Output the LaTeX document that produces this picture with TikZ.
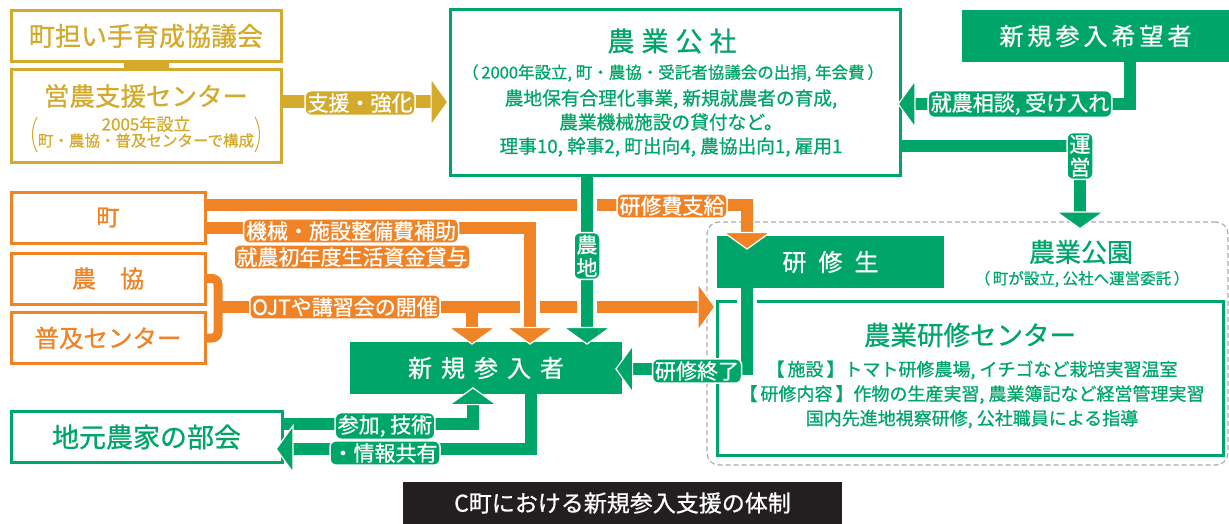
\documentclass[tikz,border=0pt]{standalone}
\usepackage{fontspec}
\setmainfont{Noto Sans CJK JP}[FakeBold=0.8]
\usetikzlibrary{arrows.meta,calc}
\definecolor{gn}{RGB}{0,165,106}
\definecolor{gd}{RGB}{211,170,44}
\definecolor{orc}{RGB}{240,131,38}
\definecolor{dk}{RGB}{35,31,32}
\begin{document}
\begin{tikzpicture}[x=1pt,y=-1pt,
  bx/.style={draw=#1, line width=3pt, inner sep=0pt, fill=white},
  fbx/.style={fill=gn, inner sep=0pt, text=white},
  lab/.style={fill=#1, draw=white, line width=1.5pt, rounded corners=6pt, text=white, inner sep=2.5pt, font=\fontsize{21}{23}\selectfont},
  ln/.style={draw=#1, line width=12pt},
  arr/.style={-{Triangle[width=50pt,length=18pt,line width=1.2pt,color=white,fill=#1]}},
  casing/.style={draw=white, line width=20pt},
]
\useasboundingbox (0,0) rectangle (1229,524);

% ---------- helper coordinates ----------
\coordinate (hS) at (0,102);
\coordinate (hK) at (0,104);
\coordinate (hU) at (0,146);
\coordinate (vU) at (1080,0);
\coordinate (vKibo) at (1130,0);
\coordinate (vN) at (587,0);
\coordinate (h1) at (0,205);
\coordinate (h2) at (0,228);
\coordinate (vK) at (747,0);
\coordinate (v2) at (530,0);
\coordinate (hO) at (0,307);
\coordinate (vO) at (472,0);
\coordinate (vB) at (218,0);
\coordinate (hE) at (0,369);
\coordinate (hJ1) at (0,424);
\coordinate (vJ1) at (473,0);
\coordinate (hJ2) at (0,449);
\coordinate (vJ2) at (531,0);

% ---------- gold ----------
\node[bx=gd, minimum width=270pt, minimum height=51pt, text=gd, font=\fontsize{26}{26}\selectfont] (kyogi) at (146,36) {町担い手育成協議会};
\node[bx=gd, minimum width=270pt, minimum height=93pt] (eino) at (146,116.5) {};
\node[text=gd, font=\fontsize{25.5}{26}\selectfont] (einoT) at (146,96) {営農支援センター};
\node[text=gd, font=\fontsize{17}{17}\selectfont] (einoS1) at (146,124) {2005年設立};
\node[text=gd, font=\fontsize{15.5}{16}\selectfont] (einoS2) at (146,140.5) {町・農協・普及センターで構成};
\draw[gd, line width=1pt] (37,117) .. controls (31,128) and (31,141) .. (37,152);
\draw[gd, line width=1pt] (255,117) .. controls (261,128) and (261,141) .. (255,152);
\fill[gd] ($(kyogi.south)+(-22.5,0)$) rectangle ($(eino.north)+(22.5,0)$);

% ---------- green top ----------
\node[bx=gn, minimum width=450pt, minimum height=165pt] (kosha) at (675,92.5) {};
\node[text=gn, font=\fontsize{27}{27}\selectfont] (koshaT) at (672,41) {農\kern7pt 業\kern7pt 公\kern7pt 社};
\node[text=gn, font=\fontsize{16.5}{17}\selectfont] (koshaS) at (673,73) {（\,2000年設立, 町・農協・受託者協議会の出捐, 年会費\,）};
\node[text=gn, font=\fontsize{18.7}{24}\selectfont, align=center] (koshaB) at (671,123) {農地保有合理化事業, 新規就農者の育成,\\農業機械施設の貸付など。\\理事10, 幹事2, 町出向4, 農協出向1, 雇用1};

\node[fbx, minimum width=267pt, minimum height=52pt, font=\fontsize{24}{24}\selectfont] (kibo) at (1095.5,36) {新\kern4pt 規\kern4pt 参\kern4pt 入\kern4pt 希\kern4pt 望\kern4pt 者};

% ---------- orange boxes ----------
\node[bx=orc, minimum width=194pt, minimum height=51pt, text=orc, font=\fontsize{23}{23}\selectfont] (machi) at (108,217.5) {町};
\node[bx=orc, minimum width=194pt, minimum height=51pt, text=orc, font=\fontsize{24}{24}\selectfont] (nokyo) at (108,278.5) {農\hspace{1em}協};
\node[bx=orc, minimum width=194pt, minimum height=51pt, text=orc, font=\fontsize{24.5}{24}\selectfont] (fukyu) at (108,338) {普及センター};

% ---------- park area ----------
\node[draw=gray!65, dashed, dash pattern=on 5pt off 3pt, line width=1.2pt, rounded corners=12pt, minimum width=521pt, minimum height=243pt] (park) at (967.5,343.5) {};
\node[text=gn, font=\fontsize{26}{26}\selectfont] (koen) at (1081,252) {農業公園};
\node[text=gn, font=\fontsize{15.5}{15}\selectfont] (koenS) at (1082,279) {（\,町が設立, 公社へ運営委託\,）};
\node[bx=gn, minimum width=506pt, minimum height=154pt] (kcenter) at (970,378) {};
\node[text=gn, font=\fontsize{26.5}{27}\selectfont] (kcenterT) at (970,335) {農業研修センター};
\node[text=gn, font=\fontsize{18}{24.5}\selectfont, align=center] (kcenterB) at (972,394.5) {【\,施設\,】トマト研修農場, イチゴなど栽培実習温室\\【\,研修内容\,】作物の生産実習, 農業簿記など経営管理実習\\国内先進地視察研修, 公社職員による指導};
\node[fbx, minimum width=227pt, minimum height=52pt, font=\fontsize{24}{24}\selectfont] (kenshusei) at (830.5,262) {研\kern12pt 修\kern12pt 生};

% ---------- lower ----------
\node[fbx, minimum width=272pt, minimum height=52pt, font=\fontsize{24}{24}\selectfont] (shinki) at (486,368) {新\kern9pt 規\kern9pt 参\kern9pt 入\kern9pt 者};
\node[bx=gn, minimum width=271pt, minimum height=51pt, text=gn, font=\fontsize{27}{27}\selectfont] (jimoto) at (146.5,437) {地元農家の部会};
\node[fill=dk, minimum width=439pt, minimum height=42pt, text=white, font=\fontsize{23}{23}\selectfont] (caption) at (622.5,503) {C町における新規参入支援の体制};

% ---------- connectors ----------
\draw[ln=gd, line width=13pt, arr=gd] (eino.east |- hS) -- (kosha.west |- hS);
\draw[ln=gn, arr=gn] (kibo.south -| vKibo) |- ($(kosha.east |- hK)+(-4,0)$);
\draw[ln=gn, arr=gn] (kosha.east |- hU) -| ($(park.north -| vU)+(0,8)$);

% orange
\draw[ln=orc, line width=9pt, rounded corners=6pt] (nokyo.east) -- (vB |- nokyo.east) -- (vB |- fukyu.east) -- (fukyu.east);
\draw[ln=orc, arr=orc] (vB |- hO) -- (kcenter.west |- hO);
\draw[ln=orc, arr=orc] (vO |- hO) -- ($(shinki.north -| vO)+(0,3)$);
\draw[ln=orc, arr=orc] (machi.east |- h1) -| ($(kenshusei.north -| vK)+(0,14)$);
\draw[casing] ($(v2 |- h2)+(0,8)$) -- ($(shinki.north -| v2)+(0,-16)$);
\draw[ln=orc, arr=orc] (machi.east |- h2) -| ($(shinki.north -| v2)+(0,3)$);

% green
\draw[casing] ($(kosha.south -| vN)+(0,4)$) -- ($(shinki.north -| vN)+(0,-16)$);
\draw[ln=gn, arr=gn] (kosha.south -| vN) -- ($(shinki.north -| vN)+(0,3)$);
\draw[casing] ($(kenshusei.south -| vK)+(0,2)$) -- ($(vK |- hE)+(0,-8)$);
\draw[ln=gn, arr=gn] (kenshusei.south -| vK) |- ($(shinki.east |- hE)+(-7,0)$);
\draw[ln=gn, arr=gn] (jimoto.east |- hJ1) -| ($(shinki.south -| vJ1)+(0,-7)$);
\draw[ln=gn, arr=gn] (shinki.south -| vJ2) |- ($(jimoto.east |- hJ2)+(-8,0)$);

% ---------- labels ----------
\node[lab=gd] (lbS) at (360,103) {支援・強化};
\node[lab=gn] (lbK) at (1020,104) {就農相談, 受け入れ};
\node[lab=gn, align=center] (lbU) at (1080,156) {運\\営};
\node[lab=gn, align=center] (lbN) at (587,256) {農\\地};
\node[lab=orc] (lbH) at (672,206) {研修費支給};
\node[lab=orc] (lbM1) at (351,231) {機械・施設整備費補助};
\node[lab=orc] (lbM2) at (352,257) {就農初年度生活資金貸与};
\node[lab=orc] (lbO) at (345,307) {OJTや講習会の開催};
\node[lab=gn] (lbE) at (697,371) {研修終了};
\node[lab=gn] (lbJ1) at (385,426) {参加, 技術};
\node[lab=gn] (lbJ2) at (385,453) {・情報共有};
\end{tikzpicture}
\end{document}
